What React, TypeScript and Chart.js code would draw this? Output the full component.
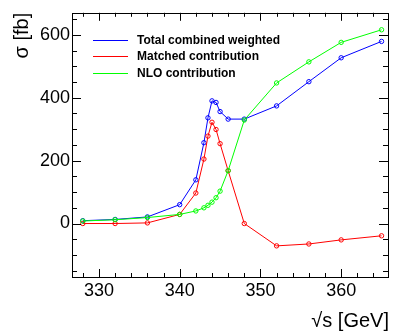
import React, { useEffect, useRef } from "react";
import { Chart, registerables } from "chart.js";

Chart.register(...registerables);

const energies = [328, 332, 336, 340, 342, 343, 343.5, 344, 344.5, 345, 346, 348, 352, 356, 360, 365];
const totalWeighted = [9, 13, 21, 60, 139, 257, 336, 390, 385, 356, 332, 332, 374, 451, 527, 579];
const matchedContribution = [0, 0, 2, 29, 97, 205, 278, 322, 299, 254, 168, 0, -71, -65, -52, -39];
const nloContribution = [8, 12, 19, 29, 40, 50, 58, 68, 82, 103, 168, 329, 447, 514, 576, 616];

const seriesLabels = ["Total combined weighted", "Matched contribution", "NLO contribution"];
const xTickLabels = [330, 340, 350, 360];
const yTickLabels = [0, 200, 400, 600];
const xTitle = "\u221As [GeV]";
const yTitle = "\u03C3 [fb]";

const FONT = "'Liberation Sans', Arial, Helvetica, sans-serif";

const framePlugin = {
  id: "rootFrame",
  afterDatasetsDraw(chart: any) {
    const { ctx, chartArea } = chart;
    const { left, right, top, bottom } = chartArea;
    const xs = chart.scales.x;
    const ys = chart.scales.y;
    ctx.save();
    ctx.strokeStyle = "#000";
    ctx.lineWidth = 1;
    ctx.strokeRect(Math.round(left) + 0.5, Math.round(top) + 0.5, Math.round(right - left), Math.round(bottom - top));
    ctx.beginPath();
    for (let v = 328; v <= 365; v += 2) {
      const major = v % 10 === 0;
      const len = major ? 8 : 4;
      const px = Math.round(xs.getPixelForValue(v)) + 0.5;
      ctx.moveTo(px, bottom);
      ctx.lineTo(px, bottom - len);
      ctx.moveTo(px, top);
      ctx.lineTo(px, top + len);
    }
    for (let v = -150; v <= 650; v += 50) {
      const major = v % 200 === 0;
      const len = major ? 9 : 5;
      const py = Math.round(ys.getPixelForValue(v)) + 0.5;
      ctx.moveTo(left, py);
      ctx.lineTo(left + len, py);
      ctx.moveTo(right, py);
      ctx.lineTo(right - len, py);
    }
    ctx.stroke();

    ctx.fillStyle = "#000";
    ctx.font = `20px ${FONT}`;
    ctx.textAlign = "right";
    ctx.textBaseline = "middle";
    ctx.fillText(xTitle, right + 1, 321);
    ctx.save();
    ctx.translate(22, top);
    ctx.rotate(-Math.PI / 2);
    ctx.textAlign = "right";
    ctx.textBaseline = "middle";
    ctx.fillText(yTitle, 0, 0);
    ctx.restore();

    ctx.font = `bold 12px ${FONT}`;
    ctx.textAlign = "left";
    ctx.textBaseline = "middle";
    chart.data.datasets.forEach((ds: any, i: number) => {
      const y = Math.round(top + 27 + i * 16.5) + 0.5;
      ctx.strokeStyle = ds.borderColor;
      ctx.lineWidth = 1;
      ctx.beginPath();
      ctx.moveTo(left + 21, y);
      ctx.lineTo(left + 56, y);
      ctx.stroke();
      ctx.fillStyle = "#000";
      ctx.fillText(ds.label, left + 65, y + 0.5);
    });
    ctx.restore();
  },
};

function makeData(ys: number[]) {
  return energies.map((x, i) => ({ x, y: ys[i] }));
}

export default function App() {
  const ref = useRef<HTMLCanvasElement | null>(null);
  useEffect(() => {
    if (!ref.current) return;
    const common = {
      showLine: true,
      borderWidth: 1,
      pointRadius: 2.2,
      pointBorderWidth: 1,
      pointBackgroundColor: "rgba(0,0,0,0)",
      pointStyle: "circle",
      tension: 0,
    };
    const chart = new Chart(ref.current, {
      type: "scatter",
      data: {
        datasets: [
          { ...common, label: seriesLabels[0], data: makeData(totalWeighted), borderColor: "#0000ff", pointBorderColor: "#0000ff", order: 2 },
          { ...common, label: seriesLabels[1], data: makeData(matchedContribution), borderColor: "#ff0000", pointBorderColor: "#ff0000", order: 1 },
          { ...common, label: seriesLabels[2], data: makeData(nloContribution), borderColor: "#00ff00", pointBorderColor: "#00ff00", order: 0 },
        ],
      },
      options: {
        responsive: false,
        animation: false,
        layout: { padding: { top: 10, right: 7, left: 0, bottom: 0 } },
        plugins: { legend: { display: false }, tooltip: { enabled: false } },
        font: { family: FONT },
        scales: {
          x: {
            type: "linear",
            min: 326.66,
            max: 365.8,
            grid: { display: false, drawTicks: false },
            border: { display: false },
            afterBuildTicks: (s: any) => { s.ticks = xTickLabels.map((v) => ({ value: v })); },
            afterFit: (s: any) => { s.height = 56; },
            ticks: { color: "#000", padding: 3, font: { size: 18, family: FONT }, maxRotation: 0 },
          },
          y: {
            type: "linear",
            min: -170,
            max: 670,
            grid: { display: false, drawTicks: false },
            border: { display: false },
            afterBuildTicks: (s: any) => { s.ticks = yTickLabels.map((v) => ({ value: v })); },
            afterFit: (s: any) => { s.width = 72; },
            ticks: { color: "#000", padding: 2, font: { size: 18, family: FONT } },
          },
        },
      } as any,
      plugins: [framePlugin],
    } as any);
    return () => chart.destroy();
  }, []);
  return (
    <div style={{ position: "absolute", left: 0, top: 0, width: 395, height: 333, background: "#fff" }}>
      <canvas ref={ref} width={395} height={333} style={{ display: "block" }} />
    </div>
  );
}
